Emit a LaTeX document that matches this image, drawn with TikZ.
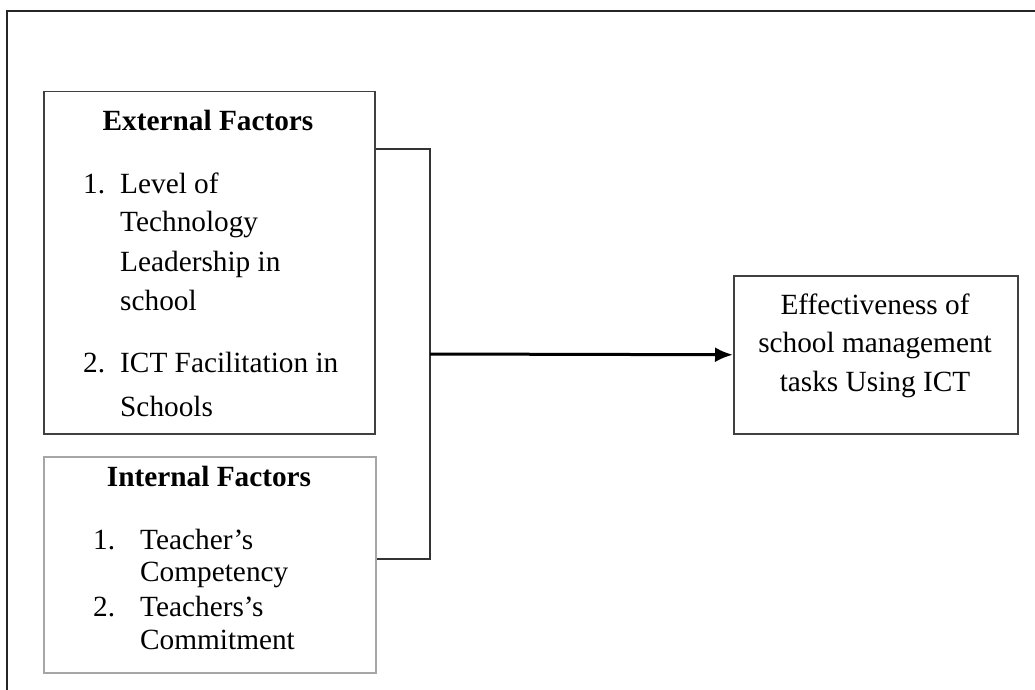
\documentclass[tikz,border=0pt]{standalone}
\usepackage{fontspec}
\setmainfont{Liberation Serif}
\usetikzlibrary{positioning, calc, arrows.meta}
\tikzstyle{Link} = [
%plain connector lines:
line width=1.6pt, draw=black!80
]
\tikzstyle{Arrow} = [
%connector with arrow head:
line width=3pt, draw=black, -{Latex[length=18pt, width=15pt]}
]

\begin{document}
\begin{tikzpicture}[x=1pt, y=-1pt,
			factorbox/.style = {rectangle, draw=black!75, line width=1.5pt, inner sep=0pt, anchor=north west},
			lightbox/.style = {factorbox, draw=black!35},
			heading/.style = {anchor=base, inner sep=0pt, font=\fontsize{29.3}{35}\selectfont\bfseries},
			item/.style = {anchor=base west, inner sep=0pt, font=\fontsize{29.3}{35}\selectfont},
			result/.style = {anchor=base, inner sep=0pt, font=\fontsize{29.3}{35}\selectfont},
		]
		\useasboundingbox (0,0) rectangle (1035,690);
		\draw[line width=1.5pt, black!85] (1035,11) -- (7,11) -- (7,690);

		% boxes
		\node[factorbox, minimum width=331pt, minimum height=342pt](ext) at (43,91){};
		\node[lightbox, minimum width=332pt, minimum height=216pt](int) at (43,456){};
		\node[factorbox, minimum width=284pt, minimum height=158pt](eff) at (733,275){};

		% external factors
		\node[heading](extT) at (208,131){External Factors};
		\node[item](extA) at (83,193){1.};
		\node[item](extA1) at (120,193){Level of};
		\node[item](extA2) at (120,231){Technology};
		\node[item](extA3) at (120,271){Leadership in};
		\node[item](extA4) at (120,310){school};
		\node[item](extB) at (83,372){2.};
		\node[item](extB1) at (120,372){ICT Facilitation in};
		\node[item](extB2) at (120,416){Schools};

		% internal factors
		\node[heading](intT) at (209,486){Internal Factors};
		\node[item](intA) at (93,549){1.};
		\node[item](intA1) at (140,549){Teacher’s};
		\node[item](intA2) at (140,581){Competency};
		\node[item](intB) at (93,616){2.};
		\node[item](intB1) at (140,616){Teachers’s};
		\node[item](intB2) at (140,649){Commitment};

		% outcome
		\node[result](effA) at (875,314){Effectiveness of};
		\node[result](effB) at (875,352){school management};
		\node[result](effC) at (875,391){tasks Using ICT};

		\coordinate(jTop) at (430,149);
		\coordinate(jMid) at (430,354);
		\coordinate(jBot) at (430,559);

		\draw[Link](ext.east |- jTop)--(jTop)--(jBot)--(int.east |- jBot);
		\draw[Arrow](jMid)--(eff.west);

	\end{tikzpicture}
\end{document}
